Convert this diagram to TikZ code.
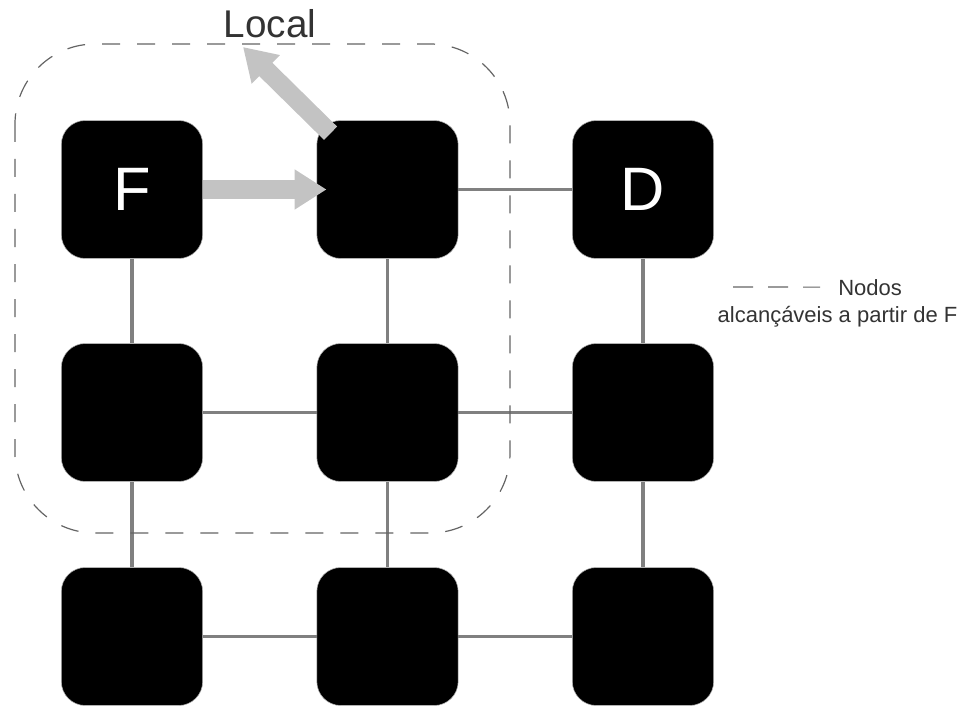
\documentclass[tikz,border=0pt]{standalone}
\usepackage{fontspec}
\setmainfont{Liberation Sans}
\usetikzlibrary{positioning,arrows.meta}
\definecolor{linkgray}{RGB}{128,128,128}
\definecolor{arrowgray}{RGB}{195,195,195}
\definecolor{boxgray}{RGB}{100,100,100}
\definecolor{textgray}{RGB}{51,51,51}
\tikzset{
  netnode/.style={fill=black, draw=gray!60, line width=0.4pt, rounded corners=18pt,
    minimum width=106pt, minimum height=103.5pt, inner sep=0pt, text=white,
    font=\fontsize{46}{46}\selectfont},
  link/.style={draw=linkgray, line width=2.6pt},
  flow/.style={draw=arrowgray, line width=14pt, -{Triangle[length=24pt,width=28.5pt]}},
  region/.style={draw=boxgray, line width=0.9pt, dash pattern=on 13.5pt off 12.75pt},
  legendtext/.style={text=textgray, inner sep=0pt, font=\fontsize{16.5}{16.5}\selectfont},
}

\begin{document}
\begin{tikzpicture}[x=0.75pt, y=-0.75pt]
			\useasboundingbox (0,0) rectangle (957,706);
			\node [netnode] (F) at (132,189.5) {F};
			\node [netnode] (n12) at (387.5,189.5) {};
			\node [netnode] (D) at (643,189.5) {D};
			\node [netnode] (n21) at (132,412.5) {};
			\node [netnode] (n22) at (387.5,412.5) {};
			\node [netnode] (n23) at (643,412.5) {};
			\node [netnode] (n31) at (132,636.5) {};
			\node [netnode] (n32) at (387.5,636.5) {};
			\node [netnode] (n33) at (643,636.5) {};
			\draw [link] (n12) -- (D);
			\draw [link] (F) -- (n21);
			\draw [link] (n12) -- (n22);
			\draw [link] (D) -- (n23);
			\draw [link] (n21) -- (n22);
			\draw [link] (n22) -- (n23);
			\draw [link] (n21) -- (n31);
			\draw [link] (n22) -- (n32);
			\draw [link] (n23) -- (n33);
			\draw [link] (n31) -- (n32);
			\draw [link] (n32) -- (n33);
			\draw [region, rounded corners=60pt] (15,44) rectangle (510,533);
			\node [legendtext, font=\fontsize{29}{29}\selectfont, anchor=base] (local) at (270,38) {Local};
			\coordinate (tip) at (243,47);
			\draw [flow] (F.east) -- ([xshift=7.5pt]n12.west);
			\draw [flow] ([shift={(14,13)}]n12.north west) -- (tip);
			\node [legendtext, anchor=base west] (nodos) at (838,295) {Nodos};
			\node [legendtext, anchor=base] (partir) at (837.5,322) {alcançáveis a partir de F};
			\coordinate (legend) at (733,287);
			\draw [region, dash pattern=on 15pt off 11.25pt] (legend) -- ([xshift=-13.5pt]nodos.west);
		\end{tikzpicture}
\end{document}
